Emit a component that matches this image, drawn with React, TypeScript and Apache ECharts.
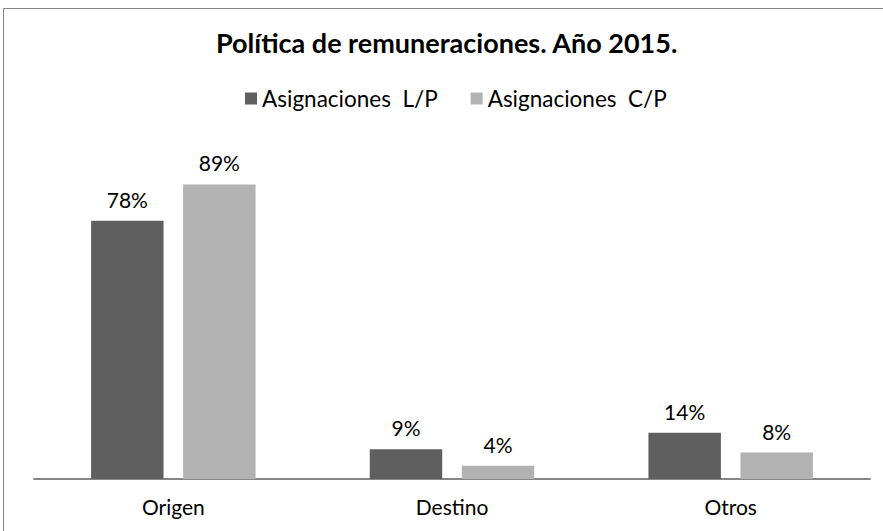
import React, { useEffect, useRef } from "react";
import * as echarts from "echarts";

const categories = ["Origen", "Destino", "Otros"];
const seriesNames = ["Asignaciones  L/P", "Asignaciones  C/P"];
const lpValues = [0.78, 0.09, 0.14];
const cpValues = [0.89, 0.04, 0.08];
const titleText = "Política de remuneraciones. Año 2015.";

const FONT = "Lato, 'Open Sans', sans-serif";

export default function App() {
  const ref = useRef<HTMLDivElement>(null);
  useEffect(() => {
    if (!ref.current) return;
    const chart = echarts.init(ref.current, undefined, { renderer: "svg" });
    const label = {
      show: true,
      position: "top" as const,
      distance: 11,
      color: "#000",
      fontSize: 21,
      fontFamily: FONT,
      formatter: (p: any) => Math.round(p.value * 100) + "%",
    };
    chart.setOption({
      animation: false,
      backgroundColor: "#fff",
      title: {
        text: titleText,
        left: 216,
        top: 29,
        padding: 0,
        textStyle: { fontFamily: FONT, fontWeight: "bold", fontSize: 27, color: "#000" },
      },
      legend: {
        top: 82,
        left: 240,
        itemWidth: 12,
        itemHeight: 12,
        itemGap: 33,
        icon: "rect",
        textStyle: { fontFamily: FONT, fontSize: 22.5, color: "#000" },
        data: seriesNames,
      },
      graphic: [
        {
          type: "rect",
          shape: { x: 3.5, y: 8.5, width: 890, height: 540 },
          style: { fill: "none", stroke: "#868686", lineWidth: 1 },
          silent: true,
        },
      ],
      grid: { left: 34, right: 13, top: 148, bottom: 52, containLabel: false },
      xAxis: {
        type: "category",
        data: categories,
        axisLine: { lineStyle: { color: "#868686", width: 2 } },
        axisTick: { show: false },
        axisLabel: { fontFamily: FONT, fontSize: 21, color: "#000", margin: 17 },
      },
      yAxis: {
        type: "value",
        min: 0,
        max: 1,
        show: false,
        splitLine: { show: false },
      },
      series: [
        {
          name: seriesNames[0],
          type: "bar",
          data: lpValues,
          barWidth: "26%",
          barGap: "27%",
          itemStyle: { color: "#5f5f5f" },
          label,
        },
        {
          name: seriesNames[1],
          type: "bar",
          data: cpValues,
          barWidth: "26%",
          itemStyle: { color: "#b2b2b2" },
          label,
        },
      ],
    });
    return () => chart.dispose();
  }, []);
  return (
    <div
      ref={ref}
      style={{ position: "absolute", left: 0, top: 0, width: 883, height: 531 }}
    />
  );
}
